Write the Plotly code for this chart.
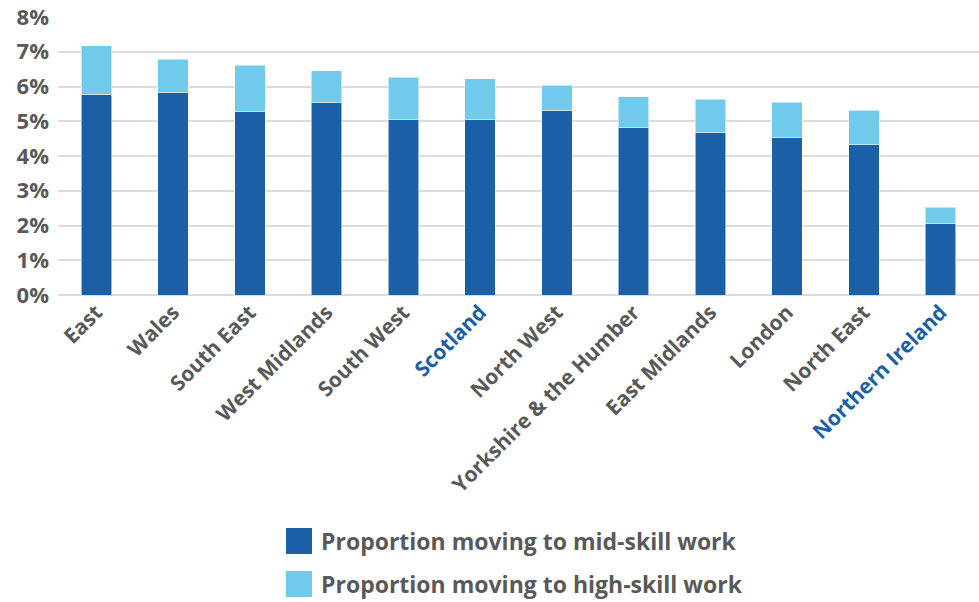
import plotly.graph_objects as go

# Regions, ordered by total share moving to higher-skill work
regions = ["East", "Wales", "South East", "West Midlands", "South West", "Scotland",
           "North West", "Yorkshire & the Humber", "East Midlands", "London",
           "North East", "Northern Ireland"]
mid_skill = [5.77, 5.83, 5.29, 5.53, 5.06, 5.06, 5.32, 4.83, 4.69, 4.52, 4.32, 2.05]
total_share = [7.17, 6.79, 6.61, 6.45, 6.27, 6.22, 6.04, 5.71, 5.63, 5.55, 5.31, 2.52]
high_skill = [round(t - m, 2) for t, m in zip(total_share, mid_skill)]
highlighted = ["Scotland", "Northern Ireland"]
y_ticks = [0, 1, 2, 3, 4, 5, 6, 7, 8]

series_names = ["Proportion moving to mid-skill work", "Proportion moving to high-skill work"]
DARK = "#1B5FA6"
LIGHT = "#6FCAEB"
GREY_TEXT = "#595959"
FONT = "Open Sans"

W, H = 979, 602
M_L, M_R, M_T, M_B = 58, 0, 17, 307
plot_w = W - M_L - M_R
plot_h = H - M_T - M_B


def px_x(px):
    return (px - M_L) / plot_w


def px_y(py):
    return (H - M_B - py) / plot_h


tick_text = [
    f"<span style='color:{DARK}'>{r}</span>" if r in highlighted else r
    for r in regions
]

fig = go.Figure()
for name, vals, col in [(series_names[0], mid_skill, DARK), (series_names[1], high_skill, LIGHT)]:
    fig.add_trace(go.Bar(
        x=list(range(len(regions))), y=vals, name=name,
        marker=dict(color=col, line=dict(color="rgba(255,255,255,0.55)", width=1)),
        width=0.4,
    ))

fig.update_layout(
    barmode="stack",
    width=W, height=H,
    margin=dict(l=M_L, r=M_R, t=M_T, b=M_B),
    plot_bgcolor="white", paper_bgcolor="white",
    showlegend=False,
    font=dict(family=FONT, color=GREY_TEXT),
    xaxis=dict(
        tickmode="array", tickvals=list(range(len(regions))), ticktext=tick_text,
        tickangle=-45, range=[-0.5, len(regions) - 0.5],
        tickfont=dict(family=FONT, size=21, color=GREY_TEXT, weight="bold"),
        showgrid=False, zeroline=False, showline=False, ticks="",
    ),
    yaxis=dict(
        range=[0, 8], tickvals=y_ticks, ticktext=[f"{v}%" for v in y_ticks],
        tickfont=dict(family=FONT, size=22, color=GREY_TEXT, weight="bold"),
        showgrid=True, gridcolor="#DCDCDC", gridwidth=2,
        zeroline=True, zerolinecolor="#DCDCDC", zerolinewidth=2,
        ticks="", ticklabelstandoff=8,
    ),
)

# Legend drawn as large swatches with labels below the chart
legend_rows = [(528, 554, series_names[0], DARK), (571, 597, series_names[1], LIGHT)]
for top, bottom, label, col in legend_rows:
    fig.add_shape(type="rect", xref="paper", yref="paper",
                  x0=px_x(286), x1=px_x(312), y0=px_y(bottom), y1=px_y(top),
                  fillcolor=col, line=dict(width=0))
    fig.add_annotation(xref="paper", yref="paper", x=px_x(319), y=px_y((top + bottom) / 2),
                       xanchor="left", yanchor="middle", showarrow=False, text=label,
                       font=dict(family=FONT, size=23, color=GREY_TEXT, weight="bold"))

fig.write_html("out.html")
